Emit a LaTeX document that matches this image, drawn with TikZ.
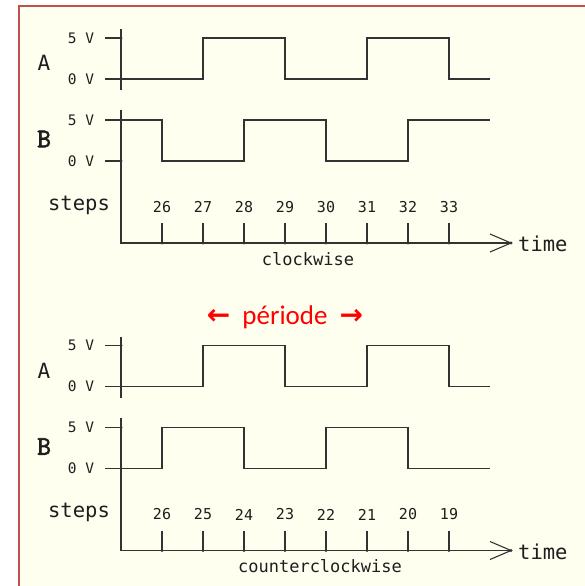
\documentclass[tikz,border=0pt]{standalone}
\usepackage{fontspec}
\setmainfont{DejaVu Sans Mono}
\newfontfamily\monofont{DejaVu Sans Mono}
\newfontfamily\slabfont{Latin Modern Mono}[FakeBold=2.2]
\newfontfamily\calfont{Carlito}
\newfontfamily\arrfont{DejaVu Sans}
\definecolor{cream}{HTML}{FFFFF0}
\definecolor{framered}{HTML}{C0504D}
\definecolor{ink}{HTML}{333333}
\definecolor{txt}{HTML}{1E1E1E}
\tikzset{
  ln/.style={draw=ink, line width=1.1pt},
  dotmark/.style={circle, fill=ink, inner sep=0pt, minimum size=3.4pt},
  vlab/.style={inner sep=0pt, text=txt, font=\monofont\fontsize{14.5}{14.5}\selectfont},
  steplab/.style={inner sep=0pt, text=txt, font=\monofont\fontsize{15}{15}\selectfont},
  biglab/.style={inner sep=0pt, text=txt, font=\monofont\fontsize{20.5}{20.5}\selectfont},
  sublab/.style={inner sep=0pt, text=txt, font=\monofont\fontsize{17}{17}\selectfont},
  chanA/.style={inner sep=0pt, text=txt, font=\monofont\fontsize{21}{21}\selectfont},
  chanB/.style={inner sep=0pt, text=txt, font=\slabfont\fontsize{27}{27}\selectfont},
}
\begin{document}
\begin{tikzpicture}[x=1pt,y=-1pt]
\useasboundingbox (0,0) rectangle (585,586);
\fill[white] (0,0) rectangle (585,586);
\fill[cream] (19,6) rectangle (585,586);
\draw[framered, line width=2pt] (19,586) -- (19,6) -- (585,6);

% ---------- two panels ----------
\foreach \p/\dy/\sub/\subx/\labs/\bwave in {
  t/0/clockwise/308/{26,27,28,29,30,31,32,33}/0,
  b/307.5/counterclockwise/320/{26,25,24,23,22,21,20,19}/1}{
\begin{scope}[shift={(0,\dy)}]
  % axis coordinates
  \coordinate (\p Atop) at (121,29);
  \coordinate (\p Abot) at (121,90);
  \coordinate (\p Btop) at (121,110);
  \coordinate (\p A5) at (121,38);
  \coordinate (\p A0) at (121,79);
  \coordinate (\p B5) at (121,120);
  \coordinate (\p B0) at (121,161);
  \coordinate (\p O) at (121,243);
  \coordinate (\p E) at (511,243);
  \coordinate (\p H1) at (490,234);
  \coordinate (\p H2) at (490,252);
  \coordinate (\p A5t) at (105,38);
  \coordinate (\p A0t) at (105,79);
  \coordinate (\p B5t) at (105,120);
  \coordinate (\p B0t) at (105,161);
  % labels
  \node[chanA] (\p A) at (44,63) {A};
  \node[chanB] (\p B) at (44,139) {B};
  \node[vlab] (\p A5l) at (81,38) {5 V};
  \node[vlab] (\p A0l) at (81,79) {0 V};
  \node[vlab] (\p B5l) at (81,120) {5 V};
  \node[vlab] (\p B0l) at (81,161) {0 V};
  \node[biglab] (\p steps) at (79,205) {steps};
  \node[biglab, anchor=west] (\p time) at (518,244) {time};
  \node[sublab] (\p sub) at (\subx,259) {\sub};
  % axes
  \draw[ln] (\p Atop) -- (\p Abot);
  \draw[ln] (\p Btop) -- (\p O) -- (\p E);
  \draw[ln] (\p H1) -- (\p E) -- (\p H2);
  \draw[ln] (\p A5t) -- (\p A5);
  \draw[ln] (\p A0t) -- (\p A0);
  \draw[ln] (\p B5t) -- (\p B5);
  \draw[ln] (\p B0t) -- (\p B0);
  \foreach \c in {A5,A0,B5,B0,E}{\node[dotmark] at (\p\c) {};}
  % step ticks
  \foreach \s [count=\i from 0] in \labs {
    \pgfmathsetmacro\xx{162+41*\i}
    \node[steplab] (\p s\i) at (\xx,207) {\s};
    \coordinate (\p k\i) at (\xx,223);
    \coordinate (\p d\i) at (\xx,243);
    \draw[ln] (\p k\i) -- (\p d\i);
    \node[dotmark] at (\p d\i) {};
  }
  % waveform A
  \draw[ln] (\p A0) -| (203,38) -| (285,79) -| (367,38) -| (449,79) -- (490,79);
  % waveform B
  \ifnum\bwave=0
    \draw[ln] (\p B5) -| (162,161) -| (244,120) -| (326,161) -| (408,120) -- (490,120);
  \else
    \draw[ln] (\p B0) -| (162,120) -| (244,161) -| (326,120) -| (408,161) -- (490,161);
  \fi
\end{scope}
}

\node[inner sep=0pt, text=red, font=\calfont\fontsize{27}{27}\selectfont] (periode) at (285,317)
  {{\arrfont\bfseries\fontsize{28}{28}\selectfont ←}\hspace{12pt}période\hspace{12pt}{\arrfont\bfseries\fontsize{28}{28}\selectfont →}};
\end{tikzpicture}
\end{document}
